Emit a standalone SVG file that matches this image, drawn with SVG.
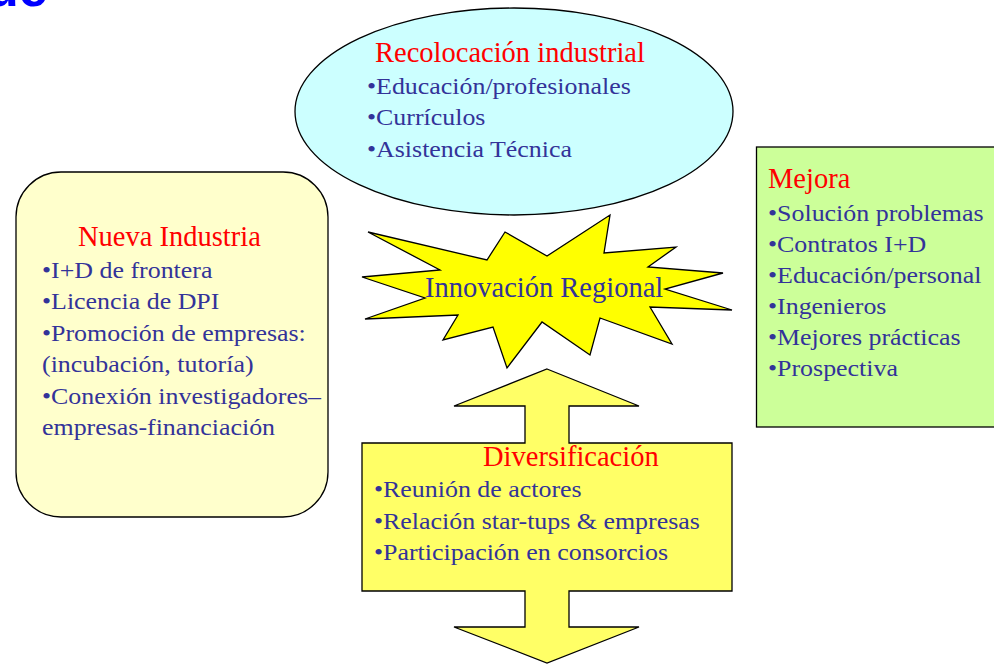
<svg xmlns="http://www.w3.org/2000/svg" width="994" height="664" viewBox="0 0 994 664">
<style>
.shape{stroke:#000;stroke-width:1.3}
.title{font-family:"Liberation Serif","Times New Roman",serif;font-size:28.5px;fill:#FF0000}
.bul{font-family:"Liberation Serif","Times New Roman",serif;font-size:24px;fill:#333399}
.center{font-family:"Liberation Serif","Times New Roman",serif;font-size:28.5px;fill:#333399}
.head{font-family:"Liberation Sans",Arial,sans-serif;font-weight:bold;font-size:52px;fill:#0000FF}
</style>
<rect width="994" height="664" fill="#FFFFFF"/>
<text class="head" x="-13" y="6">ue</text>

<g id="connectors">
  <polygon id="double-arrow" class="shape" fill="#FFFF66" points="547,369 639,406 569,406 569,443 732,443 732,591 569,591 569,627 639,627 547,663 454,627 525,627 525,591 362,591 362,443 525,443 525,406 454,406"/>
</g>

<g id="recolocacion">
  <ellipse class="shape" fill="#CCFFFF" cx="514" cy="111.5" rx="219" ry="103.5"/>
  <text class="title" x="375" y="62">Recolocación industrial</text>
  <g transform="translate(367,0) scale(1.08,1)">
    <text class="bul" x="0" y="94">•Educación/profesionales</text>
    <text class="bul" x="0" y="125">•Currículos</text>
    <text class="bul" x="0" y="157">•Asistencia Técnica</text>
  </g>
</g>

<g id="nueva-industria">
  <rect class="shape" fill="#FFFFCC" x="16" y="172" width="312" height="345" rx="45" ry="45"/>
  <text class="title" x="78" y="246">Nueva Industria</text>
  <g transform="translate(42,0) scale(1.08,1)">
    <text class="bul" x="0" y="278">•I+D de frontera</text>
    <text class="bul" x="0" y="309">•Licencia de DPI</text>
    <text class="bul" x="0" y="341">•Promoción de empresas:</text>
    <text class="bul" x="0" y="372">(incubación, tutoría)</text>
    <text class="bul" x="0" y="404">•Conexión investigadores–</text>
    <text class="bul" x="0" y="435">empresas-financiación</text>
  </g>
</g>

<g id="mejora">
  <rect class="shape" fill="#CCFF99" x="756.5" y="147" width="250" height="280"/>
  <text class="title" x="768" y="188">Mejora</text>
  <g transform="translate(768,0) scale(1.08,1)">
    <text class="bul" x="0" y="221">•Solución problemas</text>
    <text class="bul" x="0" y="252">•Contratos I+D</text>
    <text class="bul" x="0" y="283">•Educación/personal</text>
    <text class="bul" x="0" y="314">•Ingenieros</text>
    <text class="bul" x="0" y="345">•Mejores prácticas</text>
    <text class="bul" x="0" y="376">•Prospectiva</text>
  </g>
</g>

<g id="innovacion">
  <polygon class="shape" fill="#FFFF00" points="368,232 487,260 505,232 547,256 610,215 604,253 676,247 648,267 723,273 665,289 732,310 650,307 672,344 600,318 590,355 542,322 507,368 493,327 443,340 458,315 365,319 425,298 362,277 440,270"/>
  <text class="center" x="425" y="297">Innovación Regional</text>
</g>

<g id="diversificacion">
  <text class="title" x="483" y="466">Diversificación</text>
  <g transform="translate(374,0) scale(1.08,1)">
    <text class="bul" x="0" y="497">•Reunión de actores</text>
    <text class="bul" x="0" y="529">•Relación star-tups &amp; empresas</text>
    <text class="bul" x="0" y="560">•Participación en consorcios</text>
  </g>
</g>
</svg>
